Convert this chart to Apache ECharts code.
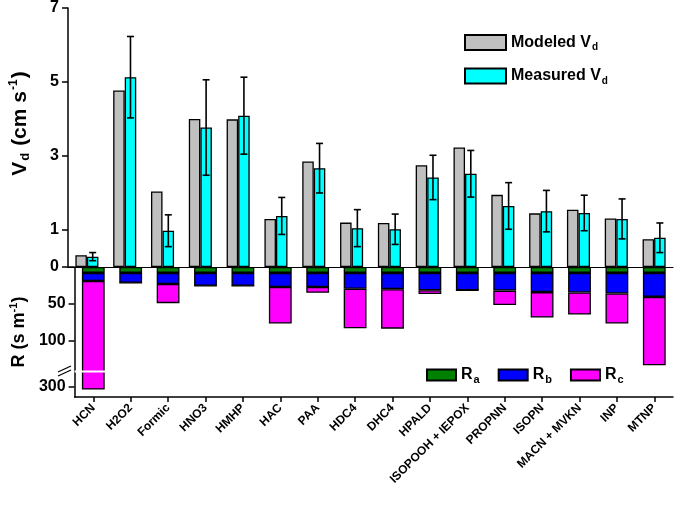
<!DOCTYPE html>
<html><head><meta charset="utf-8">
<script src="https://cdn.jsdelivr.net/npm/echarts@6/dist/echarts.min.js"></script>
<style>html,body{margin:0;padding:0;background:#fff}#c{width:680px;height:507px}</style>
</head><body><div id="c"></div>
<script>
const categories = ['HCN','H2O2','Formic','HNO3','HMHP','HAC','PAA','HDC4','DHC4','HPALD','ISOPOOH + IEPOX','PROPNN','ISOPN','MACN + MVKN','INP','MTNP'];
const modeledVd  = [0.32, 4.77, 2.04, 4.00, 3.99, 1.30, 2.85, 1.20, 1.19, 2.75, 3.23, 1.95, 1.45, 1.55, 1.31, 0.75];
const measuredVd = [0.28, 5.13, 0.98, 3.77, 4.09, 1.38, 2.67, 1.05, 1.02, 2.42, 2.52, 1.65, 1.51, 1.46, 1.30, 0.79];
const measuredErr= [0.11, 1.10, 0.43, 1.29, 1.04, 0.50, 0.67, 0.50, 0.41, 0.60, 0.63, 0.63, 0.56, 0.48, 0.54, 0.40];
const Ra = [8, 8, 8, 8, 8, 8, 8, 8, 8, 8, 8, 8, 8, 8, 8, 8];
const Rb = [11, 13.5, 15, 17.5, 17.5, 19, 19, 21.5, 22, 23.5, 23.5, 24, 26, 26.5, 28, 32.5];
const Rc = [285, 0, 26, 0, 0, 49.5, 8, 53.5, 53.5, 5, 0, 19.5, 34.5, 30, 40.5, 92.5];
const vdTicks = [0, 1, 3, 5, 7];
const rTickLabels = [50, 100, 300];
const rTicks = [0, 50, 100, 300];

const FONT = 'Arial, "Liberation Sans", sans-serif';
const chart = echarts.init(document.getElementById('c'), null, {renderer: 'canvas'});
const axisLineStyle = {color: '#000', width: 1.5};
const border = {borderColor: '#000', borderWidth: 1.3};
const gapPct = '39%';

const option = {
  animation: false,
  backgroundColor: '#fff',
  textStyle: {fontFamily: FONT},
  grid: [
    {left: 65, right: 7, top: 8, height: 259},
    {left: 65, right: 7, top: 267, height: 130}
  ],
  graphic: [
    {type: 'polygon', z: 199, shape: {points: [[58, 372.5], [72, 366], [72, 369.5], [58, 376]]}, style: {fill: '#fff'}},
    {type: 'line', z: 200, shape: {x1: 58, y1: 372, x2: 71, y2: 366}, style: {stroke: '#000', lineWidth: 1.3}},
    {type: 'line', z: 200, shape: {x1: 58, y1: 376, x2: 71, y2: 370}, style: {stroke: '#000', lineWidth: 1.3}}
  ],
  xAxis: [
    {gridIndex: 0, type: 'category', data: categories,
     axisLine: {show: true, onZero: false, lineStyle: {color: '#000', width: 1.2}},
     axisTick: {show: false}, axisLabel: {show: false}, splitLine: {show: false}},
    {gridIndex: 1, type: 'category', data: categories, position: 'bottom',
     axisLine: {show: true, onZero: false, lineStyle: axisLineStyle},
     axisTick: {show: true, alignWithLabel: true, length: 5, lineStyle: {color: '#000', width: 1.5}},
     axisLabel: {show: true, rotate: 45, interval: 0, margin: 9, fontSize: 12, fontWeight: 'bold', color: '#000', fontFamily: FONT},
     splitLine: {show: false}}
  ],
  yAxis: [
    {gridIndex: 0, type: 'value', min: 0, max: 7,
     name: '{b|V}{s|d}{b| (cm s}{p|-1}{b|)}', nameLocation: 'middle', nameRotate: 90, nameGap: 36,
     nameTextStyle: {padding: [0, 0, 0, 28], rich: {
       b: {fontSize: 21, fontWeight: 'bold', color: '#000', fontFamily: FONT, lineHeight: 24},
       s: {fontSize: 13, fontWeight: 'bold', color: '#000', fontFamily: FONT, verticalAlign: 'bottom', padding: [11, 1, 0, 1]},
       p: {fontSize: 12, fontWeight: 'bold', color: '#000', fontFamily: FONT, verticalAlign: 'top', padding: [0, 1, 10, 1]}
     }},
     axisLine: {show: true, lineStyle: axisLineStyle},
     axisTick: {show: true, length: 6, customValues: vdTicks, lineStyle: {color: '#000', width: 1.5}},
     axisLabel: {show: true, customValues: vdTicks, margin: 9, fontSize: 16, fontWeight: 'bold', color: '#000', fontFamily: FONT},
     splitLine: {show: false}},
    {gridIndex: 1, type: 'value', min: 0, max: 314, inverse: true,
     breaks: [{start: 140, end: 280, gap: '1.2%'}],
     breakArea: {show: true, expandOnClick: false, zigzagAmplitude: 0, zigzagZ: 3,
       itemStyle: {color: '#fff', borderWidth: 0, opacity: 1}},
     name: '{b|R (s m}{p|-1}{b|)}', nameLocation: 'middle', nameRotate: 90, nameGap: 36,
     nameTextStyle: {rich: {
       b: {fontSize: 18, fontWeight: 'bold', color: '#000', fontFamily: FONT, lineHeight: 22},
       p: {fontSize: 11, fontWeight: 'bold', color: '#000', fontFamily: FONT, verticalAlign: 'top', padding: [0, 0, 10, 0]}
     }},
     axisLine: {show: true, lineStyle: axisLineStyle},
     axisTick: {show: true, length: 6, customValues: rTicks, lineStyle: {color: '#000', width: 1.5}},
     axisLabel: {show: true, customValues: rTickLabels, margin: 9, fontSize: 16, fontWeight: 'bold', color: '#000', fontFamily: FONT},
     splitLine: {show: false}}
  ],
  legend: [
    {data: ['Modeled Vd', 'Measured Vd'], orient: 'vertical', left: 459, top: 29, icon: 'rect', z: 50,
     itemWidth: 41, itemHeight: 15, itemGap: 15, selectedMode: false,
     formatter: n => n === 'Modeled Vd' ? '{b|Modeled V}{s|d}' : '{b|Measured V}{s|d}',
     textStyle: {rich: {
       b: {fontSize: 16, fontWeight: 'bold', color: '#000', fontFamily: FONT},
       s: {fontSize: 10, fontWeight: 'bold', color: '#000', fontFamily: FONT, verticalAlign: 'bottom', padding: [10, 0, 0, 1]}
     }}},
    {data: ['Ra', 'Rb', 'Rc'], orient: 'horizontal', left: 421, top: 362, icon: 'rect', z: 50,
     itemWidth: 29, itemHeight: 11, itemGap: 18, selectedMode: false,
     formatter: n => '{b|R}{s|' + n.slice(1) + '}',
     textStyle: {rich: {
       b: {fontSize: 16, fontWeight: 'bold', color: '#000', fontFamily: FONT},
       s: {fontSize: 11, fontWeight: 'bold', color: '#000', fontFamily: FONT, verticalAlign: 'bottom', padding: [10, 0, 0, 1]}
     }}}
  ],
  series: [
    {name: 'Modeled Vd', type: 'bar', xAxisIndex: 0, yAxisIndex: 0, data: modeledVd,
     barGap: '0%', barCategoryGap: gapPct, itemStyle: Object.assign({color: '#c0c0c0'}, border)},
    {name: 'Measured Vd', type: 'bar', xAxisIndex: 0, yAxisIndex: 0, data: measuredVd,
     barGap: '0%', barCategoryGap: gapPct, itemStyle: Object.assign({color: '#00ffff'}, border)},
    {name: 'err', type: 'custom', xAxisIndex: 0, yAxisIndex: 0, z: 10,
     data: categories.map((c, i) => [i, measuredVd[i] - measuredErr[i], measuredVd[i] + measuredErr[i]]),
     encode: {x: 0, y: [1, 2]},
     renderItem: function (params, api) {
       const i = api.value(0);
       const lo = api.coord([i, api.value(1)]);
       const hi = api.coord([i, api.value(2)]);
       const bw = api.size([1, 0])[0];
       const x = lo[0] + bw * 0.61 / 4;
       const cap = 3.5;
       const st = {stroke: '#000', lineWidth: 1.6};
       return {type: 'group', children: [
         {type: 'line', shape: {x1: x, y1: lo[1], x2: x, y2: hi[1]}, style: st},
         {type: 'line', shape: {x1: x - cap, y1: hi[1], x2: x + cap, y2: hi[1]}, style: st},
         {type: 'line', shape: {x1: x - cap, y1: lo[1], x2: x + cap, y2: lo[1]}, style: st}
       ]};
     }},
    {name: 'Ra', type: 'bar', xAxisIndex: 1, yAxisIndex: 1, stack: 'R', data: Ra,
     barCategoryGap: gapPct, itemStyle: Object.assign({color: '#008000'}, border)},
    {name: 'Rb', type: 'bar', xAxisIndex: 1, yAxisIndex: 1, stack: 'R', data: Rb,
     barCategoryGap: gapPct, itemStyle: Object.assign({color: '#0000ff'}, border)},
    {name: 'Rc', type: 'bar', xAxisIndex: 1, yAxisIndex: 1, stack: 'R', data: Rc,
     barCategoryGap: gapPct, itemStyle: Object.assign({color: '#ff00ff'}, border)}
  ]
};
chart.setOption(option);
</script>
</body></html>
